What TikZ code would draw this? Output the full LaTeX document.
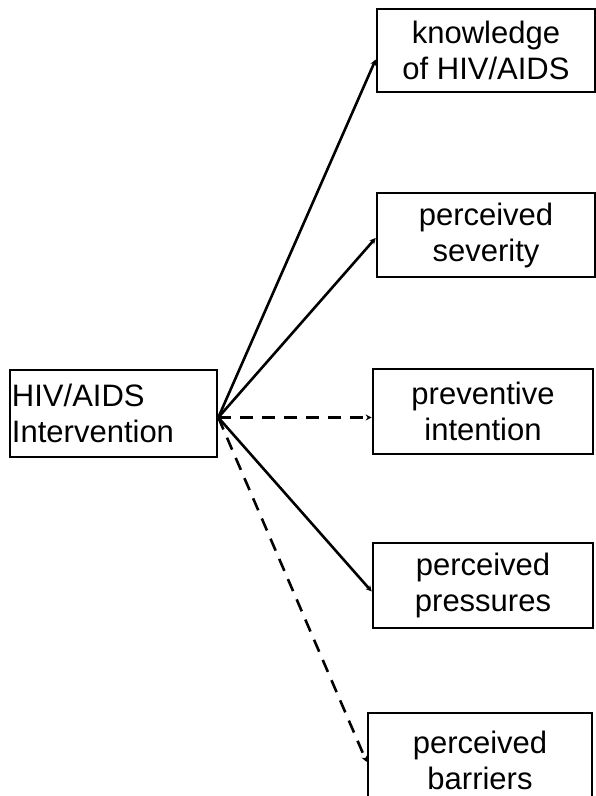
\documentclass[tikz,border=0pt]{standalone}
\usepackage{fontspec}
\setmainfont{Liberation Sans}
\usetikzlibrary{arrows.meta}
\begin{document}
\begin{tikzpicture}[x=1pt,y=1pt,
  box/.style={draw, line width=2.6pt, rectangle, inner sep=0pt,
    font=\fontsize{31}{36}\selectfont, align=center},
  link/.style={line width=2.6pt, -{Stealth[length=6pt,width=6pt]}},
  dlink/.style={link, dash pattern=on 13pt off 9pt}]
\useasboundingbox (0,0) rectangle (596,796);
% source box
\node[box, minimum width=207, minimum height=87, align=left,
      text width=203] (iv) at (113.5,382.5) {HIV/AIDS\\Intervention};
% outcome boxes
\node[box, minimum width=218, minimum height=83] (kn) at (486,745.5) {knowledge\\of HIV/AIDS};
\node[box, minimum width=218, minimum height=84] (sv) at (486,561) {perceived\\severity};
\node[box, minimum width=220, minimum height=85] (in) at (483,384.5) {preventive\\intention};
\node[box, minimum width=220, minimum height=85] (pr) at (483,210.5) {perceived\\pressures};
\node[box, minimum width=224, minimum height=94] (br) at (480,36) {perceived\\barriers};
% connectors
\coordinate (hub) at ([yshift=-4pt]iv.east);
\draw[link]  (hub) -- ([yshift=-9pt]kn.west);
\draw[link]  (hub) -- ([yshift=-3pt]sv.west);
\draw[dlink] (hub) -- ([yshift=-6pt]in.west);
\draw[link]  (hub) -- ([yshift=-6pt]pr.west);
\draw[dlink] (hub) -- ([yshift=-2pt]br.west);
\end{tikzpicture}
\end{document}
